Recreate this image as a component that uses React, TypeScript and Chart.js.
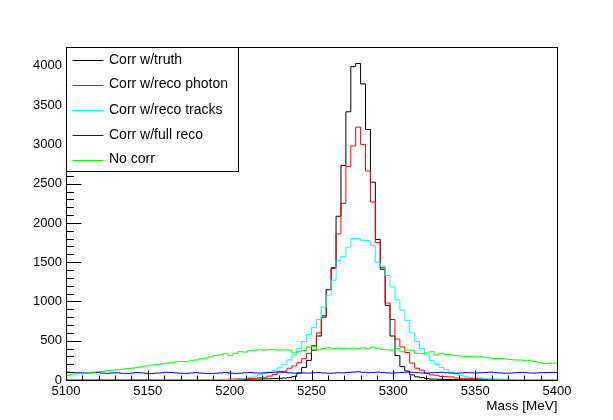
import React, { useEffect, useRef } from 'react';
import { Chart, registerables } from 'chart.js';

Chart.register(...registerables);

// Histogram binning: 100 bins of 3 MeV from 5100 to 5400
const binLow = 5100;
const binHigh = 5400;
const nBins = 100;

const xTickValues = [5100, 5150, 5200, 5250, 5300, 5350, 5400];
const yTickValues = [0, 500, 1000, 1500, 2000, 2500, 3000, 3500, 4000];

const seriesNames = ['Corr w/truth', 'Corr w/reco photon', 'Corr w/reco tracks', 'Corr w/full reco', 'No corr'];
const seriesColors = ['#000000', '#ff0000', '#00ffff', '#0000ff', '#00ff00'];

const truth = [
  0, 0, 0, 0, 0, 0, 0, 0, 0, 0,
  0, 0, 0, 0, 0, 0, 0, 0, 0, 0,
  0, 0, 0, 2, 0, 2, 3, 2, 3, 3,
  3, 4, 5, 5, 6, 8, 8, 10, 10, 12,
  12, 15, 15, 18, 20, 25, 30, 45, 90, 160,
  250, 380, 560, 800, 1150, 1430, 2085, 2730, 3415, 3990,
  4030, 3770, 3190, 2520, 1790, 1410, 950, 560, 310, 170,
  115, 65, 40, 30, 18, 12, 10, 8, 6, 5,
  4, 4, 3, 3, 3, 2, 2, 2, 2, 2,
  1, 1, 1, 1, 1, 1, 0, 0, 0, 0,
];

const recoPhoton = [
  0, 0, 0, 0, 0, 0, 0, 2, 0, 0,
  2, 0, 0, 2, 0, 2, 2, 2, 3, 3,
  3, 3, 4, 4, 4, 5, 5, 5, 5, 5,
  5, 5, 8, 8, 10, 12, 15, 18, 20, 22,
  28, 35, 50, 70, 100, 110, 150, 180, 220, 270,
  340, 440, 600, 820, 1150, 1420, 1860, 2250, 2720, 2980,
  3220, 3000, 2660, 2265, 1750, 1430, 980, 770, 520, 420,
  350, 215, 150, 125, 85, 65, 60, 45, 42, 40,
  25, 22, 22, 20, 20, 18, 15, 10, 8, 8,
  6, 6, 5, 5, 4, 4, 3, 3, 3, 3,
];

const recoTracks = [
  0, 0, 0, 0, 0, 0, 0, 0, 0, 0,
  0, 0, 0, 0, 0, 0, 0, 0, 0, 2,
  2, 2, 2, 3, 3, 3, 3, 4, 4, 4,
  5, 5, 5, 6, 6, 8, 10, 20, 35, 50,
  65, 80, 100, 125, 155, 200, 255, 320, 400, 490,
  580, 670, 770, 930, 1080, 1270, 1520, 1570, 1690, 1800,
  1800, 1778, 1775, 1715, 1500, 1450, 1330, 1185, 1020, 890,
  760, 600, 490, 400, 320, 250, 200, 160, 130, 100,
  75, 60, 45, 35, 30, 25, 20, 14, 12, 10,
  10, 8, 8, 6, 6, 5, 5, 5, 4, 4,
];

const fullReco = [
  105, 100, 95, 92, 90, 88, 92, 95, 88, 85,
  90, 92, 86, 84, 88, 95, 90, 85, 82, 88,
  92, 98, 95, 90, 86, 84, 90, 94, 88, 85,
  82, 86, 90, 95, 88, 84, 86, 92, 96, 90,
  88, 92, 96, 100, 105, 98, 92, 88, 86, 90,
  88, 92, 95, 90, 86, 88, 92, 90, 96, 100,
  105, 98, 92, 95, 100, 96, 90, 88, 92, 96,
  100, 98, 94, 90, 88, 92, 95, 98, 92, 88,
  86, 90, 94, 92, 88, 92, 96, 100, 94, 90,
  86, 88, 92, 96, 94, 90, 88, 92, 94, 95,
];

const noCorr = [
  40, 60, 75, 80, 80, 90, 100, 105, 110, 120,
  125, 130, 135, 145, 150, 160, 170, 180, 190, 195,
  205, 215, 220, 230, 235, 232, 245, 255, 270, 280,
  295, 310, 320, 335, 310, 340, 360, 355, 375, 380,
  385, 380, 390, 385, 380, 385, 380, 345, 360, 375,
  420, 425, 385, 400, 410, 400, 405, 400, 395, 405,
  400, 410, 395, 420, 405, 390, 385, 380, 400, 360,
  380, 380, 340, 335, 345, 360, 320, 340, 325, 320,
  310, 305, 300, 300, 295, 295, 290, 280, 275, 275,
  270, 260, 255, 255, 250, 250, 235, 220, 210, 215,
];

const seriesValues = [truth, recoPhoton, recoTracks, fullReco, noCorr];

const FONT = '"Liberation Sans", Arial, Helvetica, sans-serif';

function toSteps(values: number[]) {
  const w = (binHigh - binLow) / nBins;
  const pts = values.map((v, i) => ({ x: binLow + i * w, y: v }));
  pts.push({ x: binHigh, y: values[values.length - 1] });
  return pts;
}

const rootPlugin = {
  id: 'rootFrame',
  afterDatasetsDraw(chart: any) {
    const { ctx, chartArea } = chart;
    const xs = chart.scales.x;
    const ys = chart.scales.y;
    const L = Math.round(chartArea.left) + 0.5;
    const R = Math.round(chartArea.right) + 0.5;
    const T = Math.round(chartArea.top) + 0.5;
    const B = Math.round(chartArea.bottom) + 0.5;
    ctx.save();
    ctx.strokeStyle = '#000';
    ctx.lineWidth = 1;
    ctx.strokeRect(L, T, R - L, B - T);

    // y ticks (inward)
    ctx.beginPath();
    for (let v = 0; v <= 4200; v += 100) {
      const y = Math.round(ys.getPixelForValue(v)) + 0.5;
      const len = v % 500 === 0 ? 15 : 7.5;
      ctx.moveTo(L, y);
      ctx.lineTo(L + len, y);
    }
    // x ticks (inward)
    for (let v = 5100; v <= 5400; v += 10) {
      const x = Math.round(xs.getPixelForValue(v)) + 0.5;
      const len = v % 50 === 0 ? 10 : 5;
      ctx.moveTo(x, B);
      ctx.lineTo(x, B - len);
    }
    ctx.stroke();

    // x axis title
    ctx.fillStyle = '#000';
    ctx.font = `13.5px ${FONT}`;
    ctx.textAlign = 'right';
    ctx.textBaseline = 'middle';
    ctx.fillText('Mass [MeV]', R, 406);

    // legend box
    const lx0 = L, ly0 = T, lx1 = 238.5, ly1 = 171.5;
    ctx.fillStyle = '#fff';
    ctx.fillRect(lx0, ly0, lx1 - lx0, ly1 - ly0);
    ctx.strokeStyle = '#000';
    ctx.strokeRect(lx0, ly0, lx1 - lx0, ly1 - ly0);
    const rowY = [60, 84.5, 110, 135, 159.5];
    ctx.font = `14px ${FONT}`;
    ctx.textAlign = 'left';
    ctx.textBaseline = 'middle';
    seriesNames.forEach((name, i) => {
      const y = Math.round(rowY[i]) + 0.5;
      ctx.strokeStyle = seriesColors[i];
      ctx.beginPath();
      ctx.moveTo(72.5, y);
      ctx.lineTo(103.5, y);
      ctx.stroke();
      ctx.fillStyle = '#000';
      ctx.fillText(name, 109, rowY[i]);
    });
    ctx.restore();
  },
};

export default function App() {
  const ref = useRef<HTMLCanvasElement | null>(null);
  useEffect(() => {
    if (!ref.current) return;
    const datasets = seriesValues.map((vals, i) => ({
      label: seriesNames[i],
      data: toSteps(vals),
      borderColor: seriesColors[i],
      backgroundColor: seriesColors[i],
      borderWidth: 1,
      stepped: 'after' as const,
      pointRadius: 0,
      fill: false,
      order: seriesValues.length - i,
    }));
    const chart = new Chart(ref.current, {
      type: 'line',
      data: { datasets },
      options: {
        animation: false,
        responsive: false,
        maintainAspectRatio: false,
        layout: { padding: { left: 0, right: 56, top: 47, bottom: 0 } },
        plugins: { legend: { display: false }, tooltip: { enabled: false } },
        scales: {
          x: {
            type: 'linear',
            min: binLow,
            max: binHigh,
            afterBuildTicks: (s: any) => {
              s.ticks = xTickValues.map((v) => ({ value: v }));
            },
            ticks: {
              color: '#000',
              font: { family: FONT, size: 13 },
              padding: 4,
              maxRotation: 0,
              autoSkip: false,
              callback: (v: any) => String(v),
            },
            grid: { display: false, drawTicks: false },
            border: { display: false },
            afterFit: (s: any) => {
              s.height = 40;
            },
          },
          y: {
            type: 'linear',
            min: 0,
            max: 4240,
            afterBuildTicks: (s: any) => {
              s.ticks = yTickValues.map((v) => ({ value: v }));
            },
            ticks: {
              color: '#000',
              font: { family: FONT, size: 13 },
              padding: 4,
              autoSkip: false,
              callback: (v: any) => String(v),
            },
            grid: { display: false, drawTicks: false },
            border: { display: false },
            afterFit: (s: any) => {
              s.width = 66;
            },
          },
        },
      },
      plugins: [rootPlugin],
    });
    return () => chart.destroy();
  }, []);
  return (
    <div style={{ position: 'absolute', left: 0, top: 0, width: 613, height: 420, background: '#fff' }}>
      <canvas ref={ref} width={613} height={420} style={{ display: 'block', width: 613, height: 420 }} />
    </div>
  );
}
